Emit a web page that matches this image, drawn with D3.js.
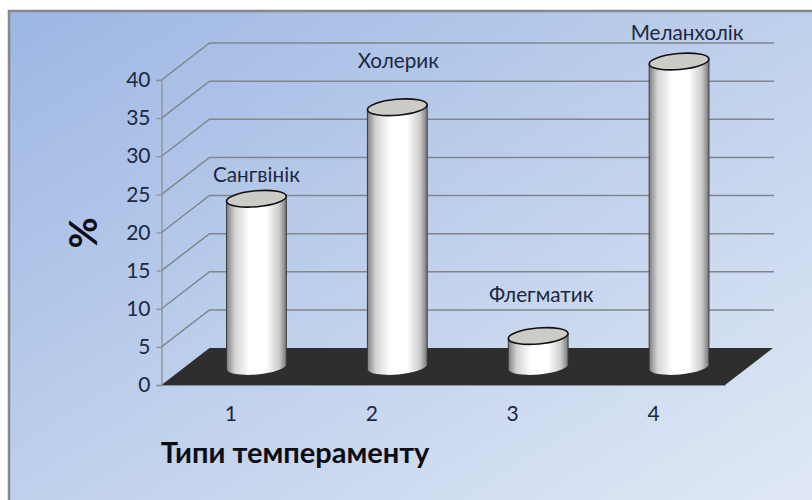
<!DOCTYPE html>
<html>
<head>
<meta charset="utf-8">
<script src="https://cdn.jsdelivr.net/npm/d3@7"></script>
<style>
  html, body { margin: 0; padding: 0; background: #fff; }
  svg { display: block; }
  svg text { font-family: Lato, "Open Sans", sans-serif; }
</style>
</head>
<body>
<svg id="chart" width="812" height="500"></svg>
<script>
// Data
const categories = ["1", "2", "3", "4"];
const values = [22, 34, 4, 40];
const names = ["Сангвінік", "Холерик", "Флегматик", "Меланхолік"];
const yTicks = [0, 5, 10, 15, 20, 25, 30, 35, 40];

// Fake 3D depth of the chart box
const depth = { x: 48, y: -37 };
const tilt = 5; // degrees, tilt of the cylinder ellipses
const rx = 30, ry = 8;

// Name labels were moved by hand in the original, so each has its own lift
const labelLift = [22, 45, 39, 27];
const labelShift = [0, 1, 3, 8];

const svg = d3.select("#chart");
const defs = svg.append("defs");

const bg = defs.append("linearGradient").attr("id", "bg")
  .attr("x1", "0%").attr("y1", "0%").attr("x2", "100%").attr("y2", "100%");
bg.append("stop").attr("offset", "0%").attr("stop-color", "#9db6e3");
bg.append("stop").attr("offset", "50%").attr("stop-color", "#bfd0ec");
bg.append("stop").attr("offset", "100%").attr("stop-color", "#e0e8f5");

const body = defs.append("linearGradient").attr("id", "cyl");
body.append("stop").attr("offset", "0%").attr("stop-color", "#808080");
body.append("stop").attr("offset", "14%").attr("stop-color", "#d4d4d4");
body.append("stop").attr("offset", "38%").attr("stop-color", "#ffffff");
body.append("stop").attr("offset", "66%").attr("stop-color", "#ffffff");
body.append("stop").attr("offset", "88%").attr("stop-color", "#cccccc");
body.append("stop").attr("offset", "100%").attr("stop-color", "#777777");

// Background panel with grey border on the top and left
svg.append("rect").attr("x", 9).attr("y", 11).attr("width", 803).attr("height", 489)
  .attr("fill", "url(#bg)");
svg.append("path").attr("d", "M9,500V11H812")
  .attr("fill", "none").attr("stroke", "#85888e").attr("stroke-width", 2.5);

// Scales
const x = d3.scaleBand().domain(categories).range([161.5, 725]);
const y = d3.scaleLinear().domain([0, 40]).range([385, 80]);

// Grid: side wall diagonal, then along the back wall
svg.append("g").selectAll("path")
  .data(yTicks.filter(d => d > 0))
  .enter().append("path")
  .attr("d", d => `M${x.range()[0]},${y(d)}l${depth.x},${depth.y}H${x.range()[1] + depth.x + 1}`)
  .attr("fill", "none")
  .attr("stroke", "#7f868f")
  .attr("stroke-width", 1.5);

// Floor
svg.append("path")
  .attr("d", `M${x.range()[0]},${y(0)}H${x.range()[1]}l${depth.x},${depth.y}H${x.range()[0] + depth.x}Z`)
  .attr("fill", "#2e2e2e");

// Axes
const yAxis = svg.append("g")
  .attr("transform", `translate(${x.range()[0]},0)`)
  .call(d3.axisLeft(y).tickValues(yTicks).tickSize(5).tickPadding(6));
yAxis.attr("font-family", null);
yAxis.selectAll("line, path").attr("stroke", "#8b9097").attr("stroke-width", 1.3);
yAxis.selectAll("text").style("font-size", "21px").attr("fill", "#1d2840");

const xAxis = svg.append("g")
  .attr("transform", `translate(0,${y(0)})`)
  .call(d3.axisBottom(x).tickSize(0).tickPadding(21));
xAxis.attr("font-family", null);
xAxis.select("path").attr("stroke", "#8b9097").attr("stroke-width", 1);
xAxis.selectAll("text").style("font-size", "21px").attr("fill", "#1d2840")
  .attr("dx", -1);

// Cylinders
const a = tilt * Math.PI / 180;
const ex = rx * Math.cos(a), ey = rx * Math.sin(a);
const cx = d => x(d) + x.bandwidth() / 2 + depth.x / 2 + 0.5;
const floorY = y(0) + depth.y / 2;
const topY = v => floorY - (y(0) - y(v));

const bars = svg.append("g").selectAll("g")
  .data(categories)
  .enter().append("g");

bars.append("path")
  .attr("d", (d, i) => {
    const c = cx(d), t = topY(values[i]);
    return `M${c - ex},${t + ey}L${c - ex},${floorY + ey}` +
      `A${rx},${ry} ${-tilt} 0 0 ${c + ex},${floorY - ey}` +
      `L${c + ex},${t - ey}Z`;
  })
  .attr("fill", "url(#cyl)");

// Dark side edges only, the bottom of the cylinder has no outline
bars.append("path")
  .attr("d", (d, i) => {
    const c = cx(d), t = topY(values[i]);
    return `M${c - ex},${t + ey}V${floorY + ey}M${c + ex},${t - ey}V${floorY - ey}`;
  })
  .attr("fill", "none").attr("stroke", "#3a3a3a").attr("stroke-width", 1);

bars.append("ellipse")
  .attr("cx", d => cx(d))
  .attr("cy", (d, i) => topY(values[i]))
  .attr("rx", rx).attr("ry", ry)
  .attr("transform", (d, i) => `rotate(${-tilt} ${cx(d)} ${topY(values[i])})`)
  .attr("fill", "#cdcbc6")
  .attr("stroke", "#111")
  .attr("stroke-width", 1.6);

// Temperament names
svg.append("g").selectAll("text")
  .data(categories)
  .enter().append("text")
  .attr("x", (d, i) => cx(d) + labelShift[i])
  .attr("y", (d, i) => topY(values[i]) - labelLift[i])
  .attr("text-anchor", "middle")
  .attr("dominant-baseline", "middle")
  .attr("fill", "#1d2840")
  .style("font-size", "20.7px")
  .text((d, i) => names[i]);

// Axis titles
svg.append("text")
  .attr("x", 295).attr("y", 463)
  .attr("text-anchor", "middle")
  .attr("fill", "#0c0c14")
  .style("font-size", "29px")
  .style("font-weight", "bold")
  .text("Типи темпераменту");

svg.append("text")
  .attr("transform", "translate(97,233) rotate(-90)")
  .attr("text-anchor", "middle")
  .attr("fill", "#0c0c14")
  .style("font-size", "38px")
  .style("font-weight", "bold")
  .text("%");
</script>
</body>
</html>
